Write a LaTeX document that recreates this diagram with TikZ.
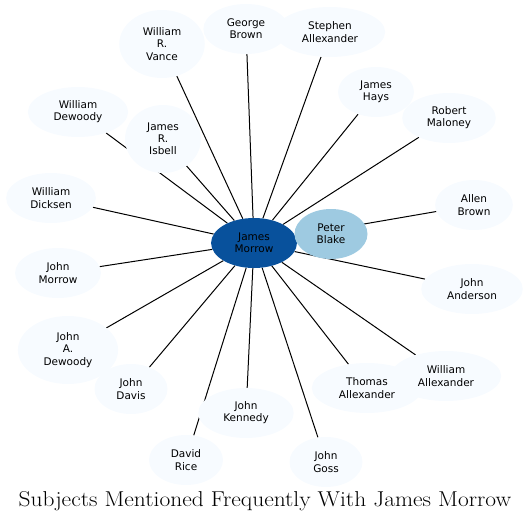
\documentclass[tikz,border=0pt]{standalone}
\usepackage{fontspec}
\newfontfamily\namefont{DejaVu Sans}
\newfontfamily\titlefont{Latin Modern Roman}[FakeStretch=1.09]
\usetikzlibrary{shapes.geometric, backgrounds}
\definecolor{morrowblue}{RGB}{8,81,156}
\definecolor{blakeblue}{RGB}{158,202,225}
\definecolor{subjfill}{RGB}{247,251,255}
\tikzset{
  subj/.style={ellipse, fill=subjfill, inner xsep=11pt, inner ysep=0pt,
    minimum width=73pt, minimum height=50pt, align=center,
    font=\namefont\fontsize{10.5}{12.2}\selectfont},
  tall/.style={subj, minimum height=68pt},
  link/.style={line width=1pt, black},
}

\begin{document}
\begin{tikzpicture}[x=1pt, y=-1pt]
  \useasboundingbox (0,0) rectangle (531,522);
  % centre
  \node[subj, fill=morrowblue] (morrow) at (254,243) {James\\Morrow};
  \node[subj, fill=blakeblue] (blake) at (331,234) {Peter\\Blake};
  % ring of subjects
  \node[tall] (vance) at (162,44) {William\\R.\\Vance};
  \node[subj] (gbrown) at (246,29) {George\\Brown};
  \node[subj] (stephen) at (330,32) {Stephen\\Allexander};
  \node[subj] (hays) at (376,92) {James\\Hays};
  \node[subj] (maloney) at (449,118) {Robert\\Maloney};
  \node[subj] (abrown) at (474,205) {Allen\\Brown};
  \node[subj] (anderson) at (472,289) {John\\Anderson};
  \node[subj] (tallex) at (367,388) {Thomas\\Allexander};
  \node[subj] (wallex) at (446,376) {William\\Allexander};
  \node[subj] (goss) at (326,462) {John\\Goss};
  \node[subj] (rice) at (186,460) {David\\Rice};
  \node[subj] (kennedy) at (246,413) {John\\Kennedy};
  \node[subj] (davis) at (131,389) {John\\Davis};
  \node[tall] (jadewoody) at (68,350) {John\\A.\\Dewoody};
  \node[subj] (jmorrow) at (58,273) {John\\Morrow};
  \node[subj] (dicksen) at (51,198) {William\\Dicksen};
  \node[subj] (wdewoody) at (78,112) {William\\Dewoody};
  \node[tall] (isbell) at (163,139) {James\\R.\\Isbell};

  \begin{scope}[on background layer]
    \draw[link] (morrow) -- (blake);
    \draw[link] (morrow) -- (vance);
    \draw[link] (morrow) -- (gbrown);
    \draw[link] (morrow) -- (stephen);
    \draw[link] (morrow) -- (hays);
    \draw[link] (morrow) -- (maloney);
    \draw[link] (morrow) -- (abrown);
    \draw[link] (morrow) -- (anderson);
    \draw[link] (morrow) -- (tallex);
    \draw[link] (morrow) -- (wallex);
    \draw[link] (morrow) -- (goss);
    \draw[link] (morrow) -- (rice);
    \draw[link] (morrow) -- (kennedy);
    \draw[link] (morrow) -- (davis);
    \draw[link] (morrow) -- (jadewoody);
    \draw[link] (morrow) -- (jmorrow);
    \draw[link] (morrow) -- (dicksen);
    \draw[link] (morrow) -- (wdewoody);
    \draw[link] (morrow) -- (isbell);
  \end{scope}

  \node[font=\titlefont\fontsize{21.5}{25}\selectfont, anchor=base, inner sep=0pt] (title) at (265,506)
    {Subjects Mentioned Frequently With James Morrow};
\end{tikzpicture}
\end{document}
